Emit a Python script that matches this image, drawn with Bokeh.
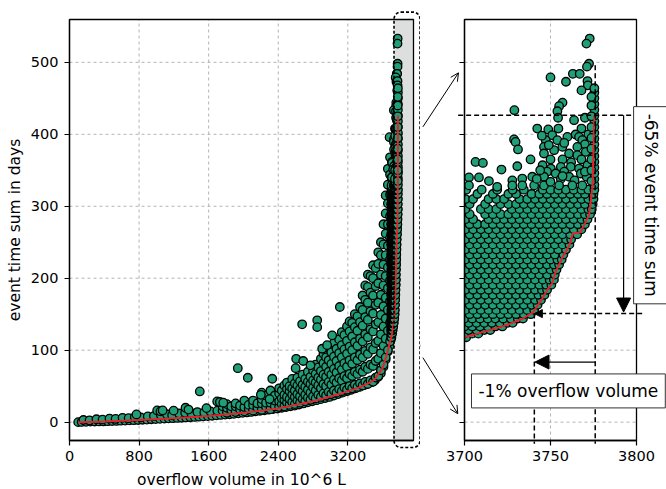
import math
from bokeh.plotting import figure
from bokeh.layouts import row
from bokeh.models import (ColumnDataSource, Range1d, FixedTicker, Arrow,
                          NormalHead, OpenHead, Label, BoxAnnotation)
from bokeh.embed import file_html
from bokeh.resources import INLINE

# ---------------- data ----------------
curve_x = [100, 400, 800, 1200, 1600, 2000, 2400, 2800, 3100, 3350, 3500, 3600, 3650,
           3700, 3706, 3714, 3724, 3734, 3740, 3745, 3748, 3751, 3753, 3757, 3761,
           3763, 3767.5, 3772.5, 3774.5, 3775, 3775.5]
curve_y = [0, 1, 3, 5.5, 8.5, 13, 19, 29, 39, 49, 58, 75, 95,
           118, 122, 127.5, 134.5, 144, 153, 171, 183, 193, 209, 229, 246,
           262, 264, 288, 330, 380, 426]

band_x = [100, 140, 190, 240, 290, 340, 390, 440, 490, 540, 590, 640, 690, 740, 790, 840,
          890, 940, 990, 1040, 1090, 1140, 1190, 1240, 1290, 1340, 1390, 1440, 1490, 1540,
          1590, 1640, 1690, 1740, 1790, 1840, 1890, 1940, 1990, 2040, 2090, 2140, 2190,
          2240, 2290, 2340, 2390, 2440, 2490, 2540, 2590, 2640, 2690, 2740, 2790, 2840,
          2890, 2940, 2990, 3040, 3090, 3140, 3190, 3240, 3290, 3340, 3390, 3430, 3470,
          3510, 3550, 3580, 3610, 3635, 3660, 3680, 3695]
band_y = [0, 0.3, 0.5, 0.7, 0.9, 1, 1, 1.3, 1.5, 1.7, 2, 2.2, 2.5, 2.7, 3, 3.3,
          3.6, 4, 4.3, 4.6, 5, 5.3, 5.5, 5.8, 6.1, 6.5, 6.8, 7.2, 7.6, 8,
          8.4, 8.9, 9.4, 10, 10.5, 11, 11.6, 12.2, 12.9, 13.5, 14.2, 15, 15.7,
          16.5, 17.3, 18.1, 19, 20, 21, 22, 23, 24.5, 26, 27.5, 29, 30.5,
          32, 33.5, 35, 37, 39, 41, 43, 45, 47, 49, 51.5, 53.5, 55.5,
          58, 63, 68, 77, 87, 98, 106, 115]

near_x = [160, 230, 310, 380, 460, 530, 610, 680, 750, 820, 900, 970, 1050, 1120, 1180,
          1260, 1330, 1400, 1470, 1550, 1620, 1700]
near_y = [3, 2.5, 4, 3.5, 5, 4.5, 6, 5.5, 7, 6.5, 8, 8.5, 10, 11, 9.5,
          12, 13, 12.5, 14, 13.5, 15, 16]

iso_x = [770, 1008, 1046, 1071, 1197, 1334, 1368, 1498, 1575, 1698, 1729, 1768, 1935,
         2050, 2200, 2331, 2300, 2600, 2606, 2687, 2771, 2675, 2848, 2848, 2905, 2962,
         3020, 3108, 3680]
iso_y = [10.7, 16.3, 15, 16.3, 16, 20, 17.5, 42.7, 19.5, 28.8, 28, 27, 75,
         61.7, 38, 60.3, 32, 75, 88, 85, 79, 136, 141.5, 132, 102, 107,
         120.6, 160, 396]

cols_x = [1760, 1810, 1860, 1910, 1960, 2010, 2060, 2110, 2160, 2210, 2260, 2310, 2360,
          2410, 2440, 2470, 2500, 2530, 2560, 2590, 2620, 2650, 2680, 2710, 2740, 2770,
          2800, 2830, 2860, 2890, 2920, 2950, 2980, 3010, 3040, 3070, 3100, 3130, 3160,
          3190, 3220, 3250, 3280, 3310, 3340, 3370, 3400, 3430, 3460, 3490, 3520, 3550,
          3580, 3610, 3635, 3660, 3685]
cols_y = [[16, 22], [13, 20, 25], [17, 22], [14, 22, 26], [18, 23], [15, 21, 30], [19, 24],
          [16, 24, 30], [20, 26], [17, 26, 32, 41], [21, 27, 37], [18, 27, 33, 44],
          [22, 30, 37],
          [21, 29, 40, 47], [25, 33, 44], [22, 31, 38, 51], [27, 35, 46, 55],
          [24, 32, 43, 50], [28, 38, 47, 60], [25, 35, 44, 54], [30, 39, 51, 62],
          [27, 36, 46, 57], [32, 43, 52, 66], [29, 38, 49, 60], [34, 45, 56, 70],
          [31, 41, 53, 63], [36, 48, 58, 72], [33, 44, 55, 67, 80], [38, 51, 62, 76],
          [35, 47, 59, 71, 88], [40, 53, 66, 82, 95], [37, 50, 63, 77, 90],
          [42, 56, 70, 86, 104], [39, 52, 66, 81, 97], [44, 59, 74, 91, 110],
          [41, 55, 69, 85, 102], [46, 61, 78, 96, 115], [43, 58, 73, 90, 107, 125],
          [48, 64, 82, 101, 121], [45, 61, 77, 95, 113, 133], [50, 67, 86, 105, 126, 140],
          [47, 64, 81, 100, 119, 138], [52, 70, 90, 111, 132, 150],
          [49, 67, 86, 106, 127, 147], [54, 73, 94, 116, 139, 160],
          [51, 70, 90, 112, 134, 156, 176], [56, 77, 99, 122, 146, 170, 190],
          [53, 74, 95, 118, 142, 166, 188, 205], [58, 80, 104, 129, 154, 180, 203],
          [56, 78, 101, 126, 151, 176, 200, 218], [62, 85, 110, 136, 163, 189, 214],
          [64, 88, 113, 139, 166, 193, 220, 236], [72, 96, 122, 149, 177, 205, 232, 250],
          [80, 106, 133, 161, 190, 219, 247, 275],
          [90, 116, 144, 173, 203, 232, 262, 290, 315],
          [100, 127, 156, 186, 215, 245, 275, 304, 330, 352],
          [112, 138, 168, 197, 226, 256, 286, 316, 344, 368]]

rows_y = [118, 123, 128, 133, 138, 144, 150, 156, 163, 170, 177, 184, 191, 198, 205, 212,
          219, 226, 233, 240, 247, 254, 261, 268, 275, 282, 289, 296, 303, 310, 317, 323]
rows_x = [
    [3698, 3701],
    [3700, 3704.5, 3708],
    [3698, 3702.5, 3707, 3711.5, 3715],
    [3700, 3704.5, 3709, 3713.5, 3718, 3722],
    [3698, 3702.5, 3707, 3711.5, 3716, 3720.5, 3725, 3728],
    [3700, 3704.5, 3709, 3713.5, 3718, 3722.5, 3727, 3731, 3734],
    [3698, 3703, 3707.5, 3712, 3716.5, 3721, 3725.5, 3730, 3734.5, 3738.5],
    [3700.5, 3705, 3709.5, 3714, 3718.5, 3723, 3727.5, 3732, 3736.5, 3740.5],
    [3698, 3703, 3707.5, 3712, 3716.5, 3721, 3725.5, 3730, 3734.5, 3739, 3742.5],
    [3700.5, 3705, 3709.5, 3714, 3718.5, 3723, 3727.5, 3732, 3736.5, 3741, 3744.5],
    [3698, 3703, 3707.5, 3712, 3716.5, 3721, 3725.5, 3730, 3734.5, 3739, 3743, 3746.5],
    [3700.5, 3705, 3709.5, 3714, 3718.5, 3723, 3727.5, 3732, 3736.5, 3741, 3745, 3748],
    [3698, 3703, 3707.5, 3712, 3716.5, 3721, 3725.5, 3730, 3734.5, 3739, 3743.5, 3747.5, 3750.5],
    [3700.5, 3705, 3709.5, 3714, 3718.5, 3723, 3727.5, 3732, 3736.5, 3741, 3745.5, 3749.5, 3752],
    [3698, 3703, 3707.5, 3712, 3716.5, 3721, 3725.5, 3730, 3734.5, 3739, 3743.5, 3748, 3752.5],
    [3700.5, 3705, 3709.5, 3714, 3718.5, 3723, 3727.5, 3732, 3736.5, 3741, 3745.5, 3750, 3753.5],
    [3698, 3703, 3707.5, 3712, 3716.5, 3721, 3725.5, 3730, 3734.5, 3739, 3743.5, 3748, 3752, 3755],
    [3700.5, 3705, 3709.5, 3714, 3718.5, 3723, 3727.5, 3732, 3736.5, 3741, 3745.5, 3750, 3754, 3756.5],
    [3698, 3703, 3707.5, 3712, 3716.5, 3721, 3725.5, 3730, 3734.5, 3739, 3743.5, 3748, 3752.5, 3757.5],
    [3700.5, 3705, 3709.5, 3714, 3718.5, 3723, 3727.5, 3732, 3736.5, 3741, 3745.5, 3750, 3754.5, 3759],
    [3698, 3703, 3707.5, 3712, 3716.5, 3721, 3725.5, 3730, 3734.5, 3739, 3743.5, 3748, 3752.5, 3757, 3761],
    [3700.5, 3705, 3709.5, 3714, 3718.5, 3723, 3727.5, 3732, 3736.5, 3741, 3745.5, 3750, 3754.5, 3759, 3762],
    [3698, 3703, 3707.5, 3712, 3716.5, 3721, 3725.5, 3730, 3734.5, 3739, 3743.5, 3748, 3752.5, 3757, 3761.5, 3765.5],
    [3700.5, 3705, 3709.5, 3714, 3718.5, 3723, 3727.5, 3732, 3736.5, 3741, 3745.5, 3750, 3754.5, 3759, 3763.5, 3768],
    [3698, 3703, 3707.5, 3712, 3716.5, 3721, 3725.5, 3730, 3734.5, 3739, 3743.5, 3748, 3752.5, 3757, 3761.5, 3766, 3770],
    [3700.5, 3705, 3714, 3718.5, 3723, 3727.5, 3732, 3736.5, 3741, 3745.5, 3750, 3754.5, 3759, 3763.5, 3768, 3771.5],
    [3698, 3703, 3712, 3716.5, 3721, 3725.5, 3730, 3734.5, 3739, 3743.5, 3748, 3752.5, 3757, 3761.5, 3766, 3770, 3773],
    [3700.5, 3709.5, 3714, 3718.5, 3727.5, 3732, 3736.5, 3741, 3745.5, 3750, 3754.5, 3759, 3763.5, 3768, 3772, 3774],
    [3698, 3703, 3712, 3721, 3725.5, 3730, 3734.5, 3739, 3743.5, 3748, 3752.5, 3757, 3761.5, 3766, 3770, 3774.5],
    [3700.5, 3705, 3714, 3718.5, 3723, 3732, 3736.5, 3741, 3745.5, 3750, 3754.5, 3759, 3763.5, 3768, 3772, 3775],
    [3698, 3707.5, 3716.5, 3725.5, 3730, 3739, 3743.5, 3748, 3752.5, 3757, 3761.5, 3766, 3770, 3775],
    [3701, 3710, 3719, 3728, 3734.5, 3745.5, 3750, 3754.5, 3759, 3763.5, 3768, 3772, 3775.5],
]

upper_x = [3772.8, 3770.9, 3772.4, 3771.2, 3763, 3767, 3750, 3759, 3771.5, 3771.7, 3768, 3757,
           3755, 3729, 3754, 3754.4, 3770, 3763.7, 3742.3, 3748.7, 3754.6, 3768, 3751, 3764.6,
           3772, 3759.8, 3766.6, 3728.8, 3747.2, 3754, 3768.5, 3729.7, 3770, 3746.2, 3756.9,
           3765.6, 3731.1, 3752.1, 3770.5, 3746.2, 3760.8, 3765.6, 3738.4, 3750, 3757, 3768,
           3706.4, 3710.7, 3762, 3745.4, 3771.5, 3730.7, 3756, 3761.8, 3721.5, 3750.2, 3766.6,
           3748, 3758, 3773, 3753, 3767.6, 3739.4, 3746.2, 3760.8, 3771, 3733.6, 3756, 3727.8,
           3764, 3714.2, 3702.6, 3708.4, 3719, 3702.6, 3727.8, 3733.6, 3740.5, 3746.2, 3755,
           3762.7, 3768.5, 3749, 3758, 3744, 3757, 3750, 3742, 3770, 3745]
upper_y = [533, 526, 498, 494, 484, 484, 479, 473, 474, 468, 461, 444,
           439, 433.5, 432, 423, 423, 419.6, 408, 406.7, 408, 408, 398.7, 399.7,
           400, 396.4, 396.4, 392.8, 391.8, 391.8, 391.8, 389.4, 386, 382.5, 382.5,
           382.5, 378.9, 377.9, 375.5, 373.3, 373.3, 371, 365, 365, 365, 365,
           361.6, 360.2, 361, 357, 357, 355.6, 354.7, 354.7, 351, 352.4, 352.4,
           348, 348, 348, 345.5, 345.5, 341, 341, 341, 341, 338.5, 338, 336,
           336, 335, 340, 340, 327, 329, 329, 329, 329, 329, 329,
           329, 329, 385, 388, 350, 342, 334, 338, 348, 398]

column_x = [3775.5] * 18 + [3773.8] * 9
column_y = [330, 338, 346, 354, 362, 370, 378, 386, 394, 402, 410, 418, 426, 434, 442, 450, 458, 464,
            335, 350, 365, 380, 395, 410, 425, 440, 452]

# axis extents / ticks
L_XLIM = (0, 3955)
R_XLIM = (3700, 3800)
YLIM = (-25.5, 559.5)
left_xticks = [0, 800, 1600, 2400, 3200]
right_xticks = [3700, 3750, 3800]
y_ticks = [0, 100, 200, 300, 400, 500]

pts_x, pts_y = [], []
pts_x += band_x; pts_y += band_y
pts_x += near_x; pts_y += near_y
for cx, ys in zip(cols_x, cols_y):
    pts_x += [cx] * len(ys); pts_y += ys
pts_x += iso_x; pts_y += iso_y
for ry, xs in zip(rows_y, rows_x):
    pts_x += xs; pts_y += [ry] * len(xs)
pts_x += upper_x; pts_y += upper_y
pts_x += column_x; pts_y += column_y

pts = ColumnDataSource(dict(x=pts_x, y=pts_y))
env = ColumnDataSource(dict(x=curve_x, y=curve_y))

FONT = "DejaVu Sans"
GREEN = "#1f9e78"
RED = "#e8202a"
GRID = "#b4b4b4"
H = 489
BOX_TOP, BOX_BOTTOM = 19, 440          # pixel rows of the axes boxes
L_W, L_BOX = 420, (69, 413)            # left canvas width, box columns
R_W, R_BOX = 246, (44, 216)            # right canvas width, box columns


def canvas_range(lim, box, size, flip=False):
    a, b = lim
    p0, p1 = box
    scale = (b - a) / (p1 - p0)
    if flip:
        return Range1d(a - (size - p1) * scale, b + p0 * scale)
    return Range1d(a - p0 * scale, b + (size - p1) * scale)


def make_panel(width, xlim, box, xticks):
    p = figure(width=width, height=H,
               x_range=canvas_range(xlim, box, width),
               y_range=canvas_range(YLIM, (BOX_TOP, BOX_BOTTOM), H, flip=True),
               output_backend="svg", toolbar_location=None, min_border=0)
    p.outline_line_color = None
    p.xaxis.fixed_location = YLIM[0]
    p.yaxis.fixed_location = xlim[0]
    p.xaxis.bounds = xlim
    p.yaxis.bounds = YLIM
    p.xaxis.ticker = FixedTicker(ticks=xticks)
    p.yaxis.ticker = FixedTicker(ticks=y_ticks)
    for ax in p.axis:
        ax.axis_line_color = "black"
        ax.axis_line_width = 1.3
        ax.major_tick_line_color = "black"
        ax.major_tick_line_width = 1.2
        ax.major_tick_out = 5
        ax.major_tick_in = 0
        ax.minor_tick_line_color = None
        ax.major_label_text_font = FONT
        ax.major_label_text_font_size = "14.5px"
        ax.major_label_text_color = "black"
    p.xaxis.major_label_standoff = 5
    p.yaxis.major_label_standoff = 6
    # grid lines limited to the axes box
    p.xgrid.visible = False
    p.ygrid.visible = False
    gx = [t for t in xticks if xlim[0] < t < xlim[1]]
    gy = [t for t in y_ticks if YLIM[0] < t < YLIM[1]]
    p.segment(x0=gx, y0=[YLIM[0]] * len(gx), x1=gx, y1=[YLIM[1]] * len(gx),
              line_color=GRID, line_dash="3 3", line_width=1, level="underlay")
    p.segment(x0=[xlim[0]] * len(gy), y0=gy, x1=[xlim[1]] * len(gy), y1=gy,
              line_color=GRID, line_dash="3 3", line_width=1, level="underlay")
    return p


def box_outline(p, xlim):
    p.add_layout(BoxAnnotation(left=xlim[0], right=xlim[1], bottom=YLIM[0], top=YLIM[1],
                               fill_color=None, line_color="black", line_alpha=1,
                               line_width=1.3))


MARK = dict(size=8.5, fill_color=GREEN, line_color="black", line_width=1.3)

# ---------------- left panel ----------------
p1 = make_panel(L_W, L_XLIM, L_BOX, left_xticks)
p1.add_layout(BoxAnnotation(left=3738, right=L_XLIM[1], bottom=YLIM[0], top=YLIM[1],
                            fill_color="#dcdfde", fill_alpha=1, line_color=None,
                            level="underlay"))
p1.scatter("x", "y", source=pts, **MARK)
p1.line("x", "y", source=env, line_color=RED, line_width=2)
box_outline(p1, L_XLIM)
p1.add_layout(BoxAnnotation(left=3731, right=4030, top=569.8, bottom=-35.2,
                            fill_color=None, line_color="black", line_alpha=1,
                            line_width=1.6, line_dash="3 2", border_radius=7))
p1.add_layout(Label(x=sum(L_XLIM) / 2, y=-80.4, text="overflow volume in 10^6 L",
                    text_align="center", text_baseline="alphabetic", text_font=FONT,
                    text_font_size="15.5px", text_color="black"))
p1.add_layout(Label(x=-626, y=267, text="event time sum in days", angle=math.pi / 2,
                    text_align="center", text_baseline="alphabetic", text_font=FONT,
                    text_font_size="15.5px", text_color="black"))

# ---------------- right panel ----------------
p2 = make_panel(R_W, R_XLIM, R_BOX, right_xticks)
p2.yaxis.major_label_overrides = {t: "" for t in y_ticks}
p2.yaxis.major_label_standoff = 0
p2.scatter("x", "y", source=pts, **MARK)
p2.line("x", "y", source=env, line_color=RED, line_width=2)
# white margin left of the zoom box hides what lies below 3700
xr = p2.x_range
p2.quad(left=[xr.start], right=[R_XLIM[0]], bottom=[p2.y_range.start], top=[p2.y_range.end],
        fill_color="white", line_color=None)
box_outline(p2, R_XLIM)


def seg(p, x0, y0, x1, y1, dash=None, head=None, width=1.5):
    a = Arrow(x_start=x0, y_start=y0, x_end=x1, y_end=y1, end=head,
              line_color="black", line_width=width)
    if dash:
        a.line_dash = dash
    p.add_layout(a)


seg(p2, 3776, 496, 3776, -30, dash="5 3")
seg(p2, 3696.3, 426.4, 3800, 426.4, dash="5 3")
seg(p2, 3803.3, 150.8, 3740.6, 150.8, dash="5 3",
    head=NormalHead(size=8, fill_color="black", line_color="black", line_width=1))
seg(p2, 3740.6, 150.8, 3740.6, -30, dash="5 3")
seg(p2, 3792.5, 426.4, 3792.5, 153, width=1.2,
    head=NormalHead(size=14, fill_color="black", line_color="black", line_width=1))
seg(p2, 3776.1, 83.5, 3741, 83.5, width=1.2,
    head=NormalHead(size=14, fill_color="black", line_color="black", line_width=1))
seg(p2, 3675.8, 410.3, 3696.5, 485.4, width=1,
    head=OpenHead(size=8, line_color="black", line_width=1))
seg(p2, 3675.8, 89.6, 3696.1, 11.7, width=1,
    head=OpenHead(size=8, line_color="black", line_width=1))

p2.add_layout(Label(x=3760.4, y=43.4, text="-1% overflow volume", text_align="center",
                    text_baseline="middle", text_font=FONT, text_font_size="17px",
                    text_color="black", background_fill_color="white",
                    border_line_color="#333333", border_line_width=1, padding=7))
p2.add_layout(Label(x=3808.2, y=301.4, text="-65% event time sum", angle=-math.pi / 2,
                    text_align="center", text_baseline="middle", text_font=FONT,
                    text_font_size="17px", text_color="black",
                    background_fill_color="white", border_line_color="#333333",
                    border_line_width=1, padding=7))

layout = row(p1, p2)
open("out.html", "w").write(file_html(layout, INLINE))
